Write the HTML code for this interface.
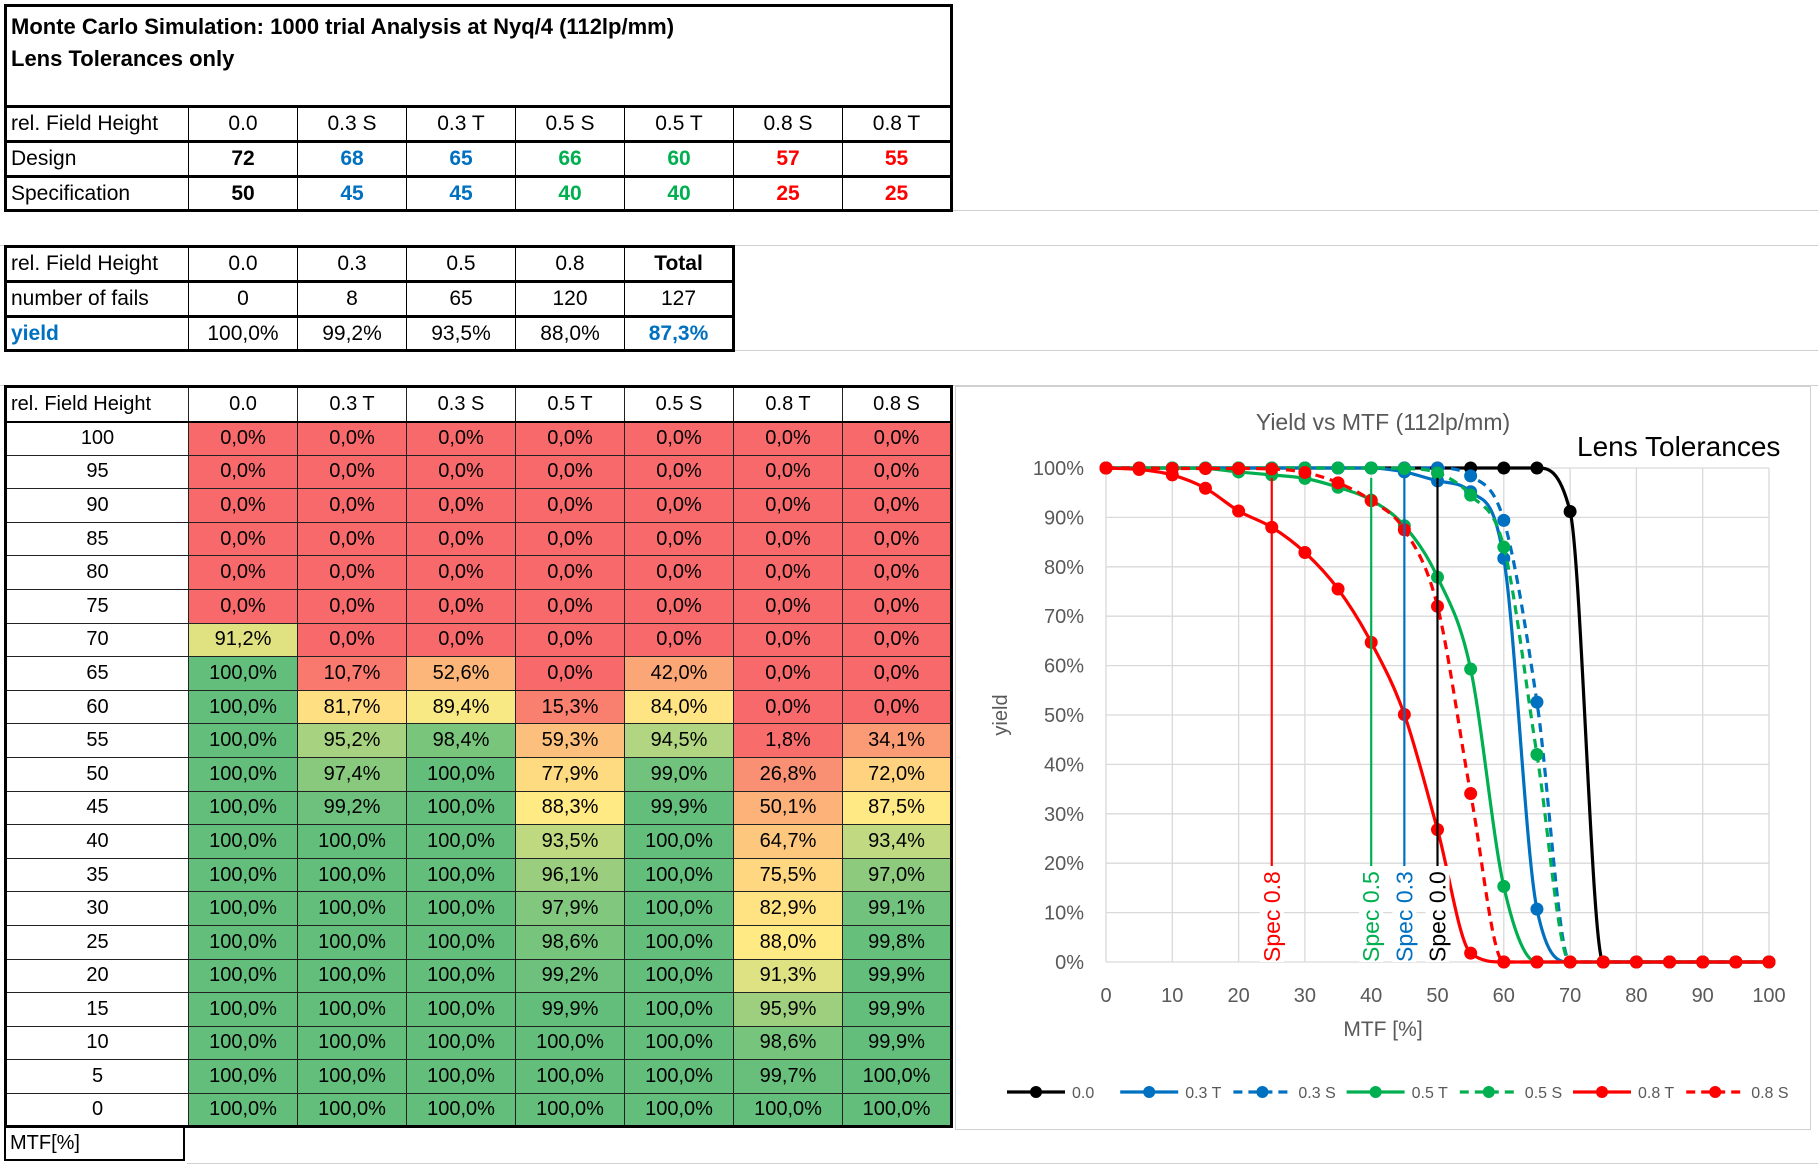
<!DOCTYPE html>
<html><head><meta charset="utf-8"><style>
body{margin:0;width:1818px;height:1166px;background:#fff;position:relative;overflow:hidden;font-family:"Liberation Sans",sans-serif;}
.gl{position:absolute;background:#d0d0d0;}
table{position:absolute;border-collapse:collapse;font-size:21px;table-layout:fixed;}
td{border:1.5px solid #000;padding:0 4px;text-align:center;white-space:nowrap;overflow:hidden;}
td.l{text-align:left;}
.b{font-weight:bold}
.blue{color:#0070C0}.green{color:#00B050}.red{color:#FF0000}
#hm td{border:1px solid #222;font-size:20px;}
</style></head><body>
<div class="gl" style="left:949px;top:210px;width:869px;height:1px"></div>
<div class="gl" style="left:0;top:245px;width:1818px;height:1px"></div>
<div class="gl" style="left:732px;top:350px;width:1086px;height:1px"></div>
<div class="gl" style="left:0;top:385px;width:1818px;height:1px"></div>
<div class="gl" style="left:187px;top:1163px;width:1631px;height:1px"></div>

<table style="left:4px;top:4px;width:945px;border:3px solid #000">
<colgroup><col style="width:183px"><col span="7" style="width:109px"></colgroup>
<tr style="height:101px"><td colspan="8" class="l b" style="vertical-align:top;font-size:22px;line-height:32px;padding-top:4px;border-bottom:3px solid #000">Monte Carlo Simulation: 1000 trial Analysis at Nyq/4 (112lp/mm)<br>Lens Tolerances only</td></tr>
<tr style="height:35px;border-bottom:3px solid #000"><td class="l">rel. Field Height</td><td>0.0</td><td>0.3 S</td><td>0.3 T</td><td>0.5 S</td><td>0.5 T</td><td>0.8 S</td><td>0.8 T</td></tr>
<tr style="height:35px;border-bottom:3px solid #000" class="b"><td class="l" style="font-weight:normal">Design</td><td>72</td><td class="blue">68</td><td class="blue">65</td><td class="green">66</td><td class="green">60</td><td class="red">57</td><td class="red">55</td></tr>
<tr style="height:34px" class="b"><td class="l" style="font-weight:normal">Specification</td><td>50</td><td class="blue">45</td><td class="blue">45</td><td class="green">40</td><td class="green">40</td><td class="red">25</td><td class="red">25</td></tr>
</table>

<table style="left:4px;top:245px;width:728px;border:3px solid #000">
<colgroup><col style="width:183px"><col span="5" style="width:109px"></colgroup>
<tr style="height:35px;border-bottom:3px solid #000"><td class="l">rel. Field Height</td><td>0.0</td><td>0.3</td><td>0.5</td><td>0.8</td><td class="b">Total</td></tr>
<tr style="height:35px;border-bottom:3px solid #000"><td class="l">number of fails</td><td>0</td><td>8</td><td>65</td><td>120</td><td>127</td></tr>
<tr style="height:34px"><td class="l b blue">yield</td><td>100,0%</td><td>99,2%</td><td>93,5%</td><td>88,0%</td><td class="b blue">87,3%</td></tr>
</table>

<table id="hm" style="left:4px;top:385px;width:945px;border:3px solid #000">
<colgroup><col style="width:183px"><col span="7" style="width:109px"></colgroup>
<tbody id="hmb"></tbody>
</table>
<div style="position:absolute;left:4px;top:1126px;width:181px;height:35px;border:2px solid #000;border-top:none;font-size:20px;line-height:34px;padding-left:4px;box-sizing:border-box">MTF[%]</div>

<div style="position:absolute;left:955px;top:386px;width:856px;height:744px;border:1px solid #d0d0d0;box-sizing:border-box"></div>
<svg id="ch" style="position:absolute;left:955px;top:386px" width="856" height="744" font-family="Liberation Sans, sans-serif"></svg>

<script>
const colLabels=["0.0","0.3 T","0.3 S","0.5 T","0.5 S","0.8 T","0.8 S"];
const mtfLevels=[100,95,90,85,80,75,70,65,60,55,50,45,40,35,30,25,20,15,10,5,0];
const y00=[0,0,0,0,0,0,91.2,100,100,100,100,100,100,100,100,100,100,100,100,100,100];
const y03T=[0,0,0,0,0,0,0,10.7,81.7,95.2,97.4,99.2,100,100,100,100,100,100,100,100,100];
const y03S=[0,0,0,0,0,0,0,52.6,89.4,98.4,100,100,100,100,100,100,100,100,100,100,100];
const y05T=[0,0,0,0,0,0,0,0,15.3,59.3,77.9,88.3,93.5,96.1,97.9,98.6,99.2,99.9,100,100,100];
const y05S=[0,0,0,0,0,0,0,42.0,84.0,94.5,99.0,99.9,100,100,100,100,100,100,100,100,100];
const y08T=[0,0,0,0,0,0,0,0,0,1.8,26.8,50.1,64.7,75.5,82.9,88.0,91.3,95.9,98.6,99.7,100];
const y08S=[0,0,0,0,0,0,0,0,0,34.1,72.0,87.5,93.4,97.0,99.1,99.8,99.9,99.9,99.9,100,100];
const seriesVals=[y00,y03T,y03S,y05T,y05S,y08T,y08S];
const seriesColors=["#000000","#0070C0","#0070C0","#00B050","#00B050","#FF0000","#FF0000"];
const seriesDash=[false,false,true,false,true,false,true];
const specX=[25,40,45,50];
const specLabels=["Spec 0.8","Spec 0.5","Spec 0.3","Spec 0.0"];
const specColors=["#FF0000","#00B050","#0070C0","#000000"];
const xTicks=[0,10,20,30,40,50,60,70,80,90,100];
const yTicks=[0,10,20,30,40,50,60,70,80,90,100];

function fmt(v){return v.toFixed(1).replace('.',',')+'%';}
function lerp(a,b,t){return a.map((x,i)=>Math.round(x+(b[i]-x)*t));}
function heat(v){const R=[248,105,107],Y=[255,235,132],G=[99,190,123];const m=89;
 const c=v<=m?lerp(R,Y,v/m):lerp(Y,G,(v-m)/(100-m));return 'rgb('+c.join(',')+')';}

const tb=document.getElementById('hmb');
const hr=document.createElement('tr');hr.style.height='35px';hr.style.borderBottom='2px solid #000';


['rel. Field Height',...colLabels].forEach((t,i)=>{const td=document.createElement('td');td.textContent=t;if(i==0)td.className='l';
 
 
 hr.appendChild(td);});
tb.appendChild(hr);
mtfLevels.forEach((m,r)=>{const tr=document.createElement('tr');tr.style.height='33.6px';
 
 
 const td0=document.createElement('td');td0.textContent=m;td0.style.background='#fff';
 
 
 tr.appendChild(td0);
 seriesVals.forEach(s=>{const td=document.createElement('td');td.textContent=fmt(s[r]);td.style.background=heat(s[r]);
  
  
  tr.appendChild(td);});
 tb.appendChild(tr);});

const svg=document.getElementById('ch');const NS='http://www.w3.org/2000/svg';
const X0=151,X1=814,Y0=576,Y1=82;
const sx=v=>X0+(X1-X0)*v/100, sy=v=>Y0+(Y1-Y0)*v/100;
function el(tag,attrs,parent){const e=document.createElementNS(NS,tag);for(const k in attrs)e.setAttribute(k,attrs[k]);(parent||svg).appendChild(e);return e;}
xTicks.forEach(t=>{const l=el('line',{x1:sx(t),x2:sx(t),y1:sy(100),y2:sy(0),stroke:'#d9d9d9','stroke-width':1.3});
 
 
 const tx=el('text',{x:sx(t),y:sy(0)+40,'text-anchor':'middle','font-size':20,fill:'#595959'});tx.textContent=t;
 
 });
yTicks.forEach(t=>{const l=el('line',{x1:sx(0),x2:sx(100),y1:sy(t),y2:sy(t),stroke:'#d9d9d9','stroke-width':1.3});
 
 
 const tx=el('text',{x:sx(0)-22,y:sy(t)+7,'text-anchor':'end','font-size':20,fill:'#595959'});tx.textContent=t+'%';
 
 });
const ttl=el('text',{x:428,y:44,'text-anchor':'middle','font-size':23,fill:'#595959'});ttl.textContent='Yield vs MTF (112lp/mm)';


const lt=el('text',{x:622,y:70,'font-size':28,fill:'#000'});lt.textContent='Lens Tolerances';


const yl=el('text',{x:0,y:0,'text-anchor':'middle','font-size':20,fill:'#595959',transform:'translate(52,329) rotate(-90)'});yl.textContent='yield';


const xl=el('text',{x:428,y:650,'text-anchor':'middle','font-size':21,fill:'#595959'});xl.textContent='MTF [%]';



// monotone cubic (Fritsch-Carlson)
function spline(pts){const n=pts.length;const d=[],m=new Array(n);
 for(let i=0;i<n-1;i++)d.push((pts[i+1][1]-pts[i][1])/(pts[i+1][0]-pts[i][0]));
 m[0]=d[0];m[n-1]=d[n-2];
 for(let i=1;i<n-1;i++){m[i]=(d[i-1]*d[i]<=0)?0:(d[i-1]+d[i])/2;}
 for(let i=0;i<n-1;i++){if(d[i]===0){m[i]=0;m[i+1]=0;continue;}
  const a=m[i]/d[i],b=m[i+1]/d[i],s=a*a+b*b;if(s>9){const t=3/Math.sqrt(s);m[i]=t*a*d[i];m[i+1]=t*b*d[i];}}
 let p='M'+pts[0][0]+','+pts[0][1];
 for(let i=0;i<n-1;i++){const h=(pts[i+1][0]-pts[i][0])/3;
  p+=' C'+(pts[i][0]+h)+','+(pts[i][1]+m[i]*h)+' '+(pts[i+1][0]-h)+','+(pts[i+1][1]-m[i+1]*h)+' '+pts[i+1][0]+','+pts[i+1][1];}
 return p;}
seriesVals.forEach((s,k)=>{const pts=mtfLevels.map((m,i)=>[sx(m),sy(s[i])]).reverse();
 const g=el('g',{});
 
 
 const p=el('path',{d:spline(pts),fill:'none',stroke:seriesColors[k],'stroke-width':3.2},g);
 if(seriesDash[k])p.setAttribute('stroke-dasharray','9,6');
 pts.forEach(q=>{const c=el('circle',{cx:q[0],cy:q[1],r:6.5,fill:seriesColors[k]},g);
  
  });});
specX.forEach((v,k)=>{const g=el('g',{});
 
 
 el('line',{x1:sx(v),x2:sx(v),y1:sy(98),y2:sy(0),stroke:specColors[k],'stroke-width':2.2},g);
 el('rect',{x:sx(v)-12,y:sy(0)-96,width:24,height:96,fill:'#fff'},g);
 const t=el('text',{x:0,y:0,'font-size':23,fill:specColors[k],transform:'translate('+(sx(v)+8)+','+(sy(0))+') rotate(-90)'},g);t.textContent=specLabels[k];});
colLabels.forEach((lab,k)=>{const x=52+k*113.2,y=706;const g=el('g',{});
 
 
 const l=el('line',{x1:x,x2:x+58,y1:y,y2:y,stroke:seriesColors[k],'stroke-width':3.2},g);
 if(seriesDash[k])l.setAttribute('stroke-dasharray','9,6');
 el('circle',{cx:x+29,cy:y,r:6,fill:seriesColors[k]},g);
 const t=el('text',{x:x+65,y:y+6,'font-size':16,fill:'#595959'},g);t.textContent=lab;});
</script>
</body></html>
